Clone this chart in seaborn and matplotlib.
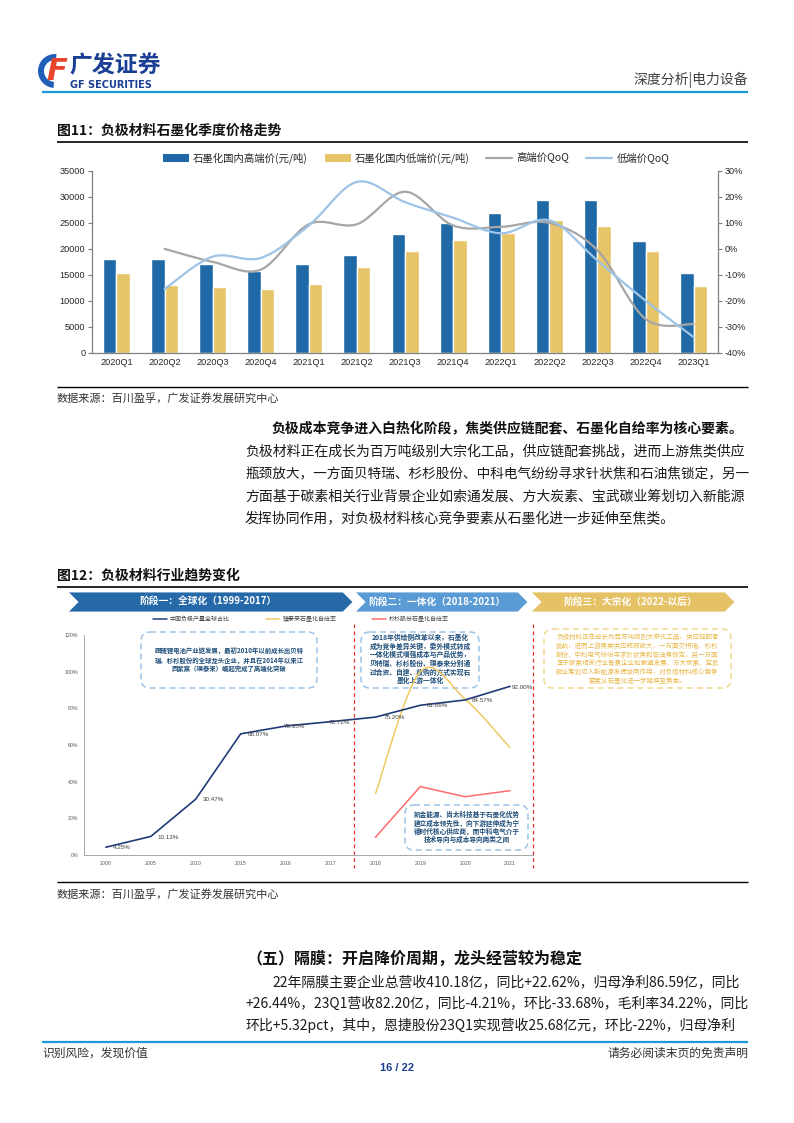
import numpy as np
import pandas as pd
import matplotlib
matplotlib.use("Agg")
import matplotlib.pyplot as plt
import seaborn as sns
from matplotlib.path import Path
from matplotlib.patches import PathPatch, Polygon, FancyBboxPatch, Wedge, Patch
from matplotlib.lines import Line2D
from matplotlib.ticker import FixedLocator, FuncFormatter

# ---------------- data ----------------
quarters = ['2020Q1', '2020Q2', '2020Q3', '2020Q4', '2021Q1', '2021Q2', '2021Q3',
            '2021Q4', '2022Q1', '2022Q2', '2022Q3', '2022Q4', '2023Q1']
high_price = [18000, 18000, 17100, 15800, 17100, 18800, 22900, 24900, 26900, 29500, 29400, 21500, 15300]
low_price = [15400, 13000, 12600, 12200, 13200, 16600, 19500, 21700, 23000, 25500, 24400, 19500, 12900]
high_qoq = [np.nan, 0.0, -5.0, -8.0, 9.5, 9.5, 22.0, 9.0, 8.5, 10.0, -0.5, -27.0, -29.0]
low_qoq = [np.nan, -15.5, -3.0, -3.5, 9.0, 25.8, 18.0, 12.0, 6.0, 11.0, -4.5, -20.0, -34.0]
series1 = ['石墨化国内高端价(元/吨)', '石墨化国内低端价(元/吨)', '高端价QoQ', '低端价QoQ']
price_ticks = [0, 5000, 10000, 15000, 20000, 25000, 30000, 35000]
pct_ticks = [-40, -30, -20, -10, 0, 10, 20, 30]

years = ['2000', '2005', '2010', '2015', '2016', '2017', '2018', '2019', '2020', '2021']
china_share = [4.25, 10.13, 30.47, 66.07, 70.35, 72.72, 75.20, 81.66, 84.57, 92.00]
ptl_rate = [np.nan, np.nan, np.nan, np.nan, np.nan, np.nan, 33.3, 100.0, 85.0, 58.5]
shanshan_rate = [np.nan, np.nan, np.nan, np.nan, np.nan, np.nan, 9.6, 37.3, 31.8, 35.1]
series2 = ['中国负极产量全球占比', '璞泰来石墨化自给率', '杉杉股份石墨化自给率']
share_ticks = [0, 20, 40, 60, 80, 100, 120]
stages = ['阶段一：全球化（1999-2017）', '阶段二：一体化（2018-2021）', '阶段三：大宗化（2022-以后）']

# ---------------- style ----------------
sns.set_theme(style="white")
CJK = ['Noto Sans CJK SC', 'DejaVu Sans']
NUM = ['Liberation Sans', 'DejaVu Sans']
plt.rcParams['font.family'] = CJK
plt.rcParams['axes.unicode_minus'] = False

BLUE = '#1f6aa6'
GOLD = '#e6c468'
GRAY = '#a6a6a6'
LBLUE = '#9dc3e6'
NAVY = '#203a78'
YEL2 = '#f0c862'
RED2 = '#ff6b6b'
DARKBLUE_TXT = '#1f4e79'
HDR_BLUE = '#1a9ad6'

W, H = 794, 1123
fig = plt.figure(figsize=(W / 100, H / 100), dpi=100)
renderer = fig.canvas.get_renderer()


def fx(x):
    return x / W


def fy(y):
    return 1 - y / H


ov = fig.add_axes([0, 0, 1, 1], zorder=-1)
ov.set_xlim(0, W)
ov.set_ylim(H, 0)
ov.axis('off')


def T(x, y, s, size, color='#1a1a1a', weight='normal', ha='left', va='center', family=CJK, **kw):
    return ov.text(x, y, s, fontsize=size, color=color, fontweight=weight, ha=ha, va=va,
                   family=family, **kw)


def fit(t, x0, xmax):
    bb = t.get_window_extent(renderer)
    if bb.x1 > xmax:
        t.set_fontsize(t.get_fontsize() * (xmax - x0) / (bb.x1 - x0))


def hline(y, x0, x1, color='#000000', lw=1.0):
    ov.plot([x0, x1], [y, y], color=color, lw=lw, solid_capstyle='butt')


# ---------------- header ----------------
ov.add_patch(Wedge((55, 71), 17, 95, 275, width=6, facecolor='#1f5fb8', edgecolor='none'))
T(57, 71, 'F', 22, color='#e8452c', weight='bold', ha='center', family=['DejaVu Sans'], style='italic')
T(69, 66, '广发证券', 16.5, color='#1a3f94', weight='bold')
T(70, 85, 'GF SECURITIES', 7.0, color='#1a3f94', weight='bold', family=['DejaVu Sans'])
T(748, 80, '深度分析|电力设备', 10, color='#404040', ha='right')
hline(92, 42, 748, color=HDR_BLUE, lw=1.6)

# ---------------- figure 11 ----------------
T(57, 131, '图11：负极材料石墨化季度价格走势', 10, weight='bold', color='#111111')
hline(142, 57, 748, lw=1.2)

ax1 = fig.add_axes([fx(92.4), fy(352.7), (717.7 - 92.4) / W, (352.7 - 171) / H])
ax1.set_facecolor('none')
df1 = pd.DataFrame({
    '季度': quarters * 2,
    '价格': high_price + low_price,
    '系列': [series1[0]] * len(quarters) + [series1[1]] * len(quarters),
})
sns.barplot(data=df1, x='季度', y='价格', hue='系列', order=quarters,
            hue_order=series1[:2], palette=[BLUE, GOLD], width=0.56,
            saturation=1, legend=False, ax=ax1)
ax1.set_xlim(-0.5, len(quarters) - 0.5)
ax1.set_ylim(0, 35000)
ax1.yaxis.set_major_locator(FixedLocator(price_ticks))
ax1.set_xlabel('')
ax1.set_ylabel('')
ax1.set_xticks(range(len(quarters)))
ax1.set_xticklabels(quarters, family=NUM, fontsize=6.6, color='#262626')
ax1.set_xticks(np.arange(-0.5, len(quarters)), minor=True)
ax1.tick_params(axis='x', which='major', length=0, pad=4)
ax1.tick_params(axis='x', which='minor', length=3, direction='out', color='#7f7f7f', width=0.8)
ax1.tick_params(axis='y', length=3, direction='out', color='#7f7f7f', width=0.8,
                labelsize=6.6, labelcolor='#262626', pad=2)
for lab in ax1.get_yticklabels():
    lab.set_family(NUM)
for s in ['top', 'right']:
    ax1.spines[s].set_visible(False)
for s in ['left', 'bottom']:
    ax1.spines[s].set_color('#7f7f7f')
    ax1.spines[s].set_linewidth(0.9)

ax2 = ax1.twinx()
ax2.set_facecolor('none')
ax2.set_ylim(-40, 30)
ax2.yaxis.set_major_locator(FixedLocator(pct_ticks))
ax2.yaxis.set_major_formatter(FuncFormatter(lambda v, p: f'{v:.0f}%'))
ax2.tick_params(axis='y', length=3, direction='out', color='#7f7f7f', width=0.8,
                labelsize=6.6, labelcolor='#262626', pad=2)
for lab in ax2.get_yticklabels():
    lab.set_family(NUM)
for s in ['top', 'left', 'bottom']:
    ax2.spines[s].set_visible(False)
ax2.spines['right'].set_color('#7f7f7f')
ax2.spines['right'].set_linewidth(0.9)


def smooth_path(xs, ys):
    pts = list(zip(xs, ys))
    n = len(pts)
    verts = [pts[0]]
    codes = [Path.MOVETO]
    for i in range(n - 1):
        p0 = pts[i - 1] if i > 0 else pts[i]
        p1 = pts[i]
        p2 = pts[i + 1]
        p3 = pts[i + 2] if i + 2 < n else pts[i + 1]
        c1 = (p1[0] + (p2[0] - p0[0]) / 6, p1[1] + (p2[1] - p0[1]) / 6)
        c2 = (p2[0] - (p3[0] - p1[0]) / 6, p2[1] - (p3[1] - p1[1]) / 6)
        verts += [c1, c2, p2]
        codes += [Path.CURVE4] * 3
    return Path(verts, codes)


def valid(vals):
    xs = [i for i, v in enumerate(vals) if not np.isnan(v)]
    ys = [vals[i] for i in xs]
    return xs, ys


for vals, col in [(high_qoq, GRAY), (low_qoq, LBLUE)]:
    xs, ys = valid(vals)
    ax2.add_patch(PathPatch(smooth_path(xs, ys), fill=False, edgecolor=col, lw=1.6,
                            capstyle='round', joinstyle='round'))

h1 = [Patch(facecolor=BLUE, edgecolor='none'), Patch(facecolor=GOLD, edgecolor='none'),
      Line2D([], [], color=GRAY, lw=1.6), Line2D([], [], color=LBLUE, lw=1.6)]
leg1 = fig.legend(h1, series1, loc='center', bbox_to_anchor=(fx(416), fy(158)), ncol=4,
                  frameon=False, fontsize=7.5, handlelength=2.5, handleheight=0.8,
                  columnspacing=1.6, handletextpad=0.4, borderaxespad=0)
for t in leg1.get_texts():
    t.set_color('#262626')

hline(387, 57, 748, lw=1.0)
T(57, 398, '数据来源：百川盈孚，广发证券发展研究中心', 8, color='#333333')

# ---------------- paragraph ----------------
t = T(272, 429, '负极成本竞争进入白热化阶段，焦类供应链配套、石墨化自给率为核心要素。', 10,
      weight='bold', color='#111111')
fit(t, 272, 748)
para = ['负极材料正在成长为百万吨级别大宗化工品，供应链配套挑战，进而上游焦类供应',
        '瓶颈放大，一方面贝特瑞、杉杉股份、中科电气纷纷寻求针状焦和石油焦锁定，另一',
        '方面基于碳素相关行业背景企业如索通发展、方大炭素、宝武碳业筹划切入新能源',
        '发挥协同作用，对负极材料核心竞争要素从石墨化进一步延伸至焦类。']
for i, line in enumerate(para):
    t = T(245, 452 + i * 22.5, line, 10, color='#1a1a1a')
    fit(t, 245, 748)

# ---------------- figure 12 ----------------
T(57, 576, '图12：负极材料行业趋势变化', 10, weight='bold', color='#111111')
hline(587, 57, 748, lw=1.2)


def chevron(x0, x1, col, y0=592, y1=612, d=10):
    ym = (y0 + y1) / 2
    pts = [(x0, y0), (x1 - d, y0), (x1, ym), (x1 - d, y1), (x0, y1), (x0 + d, ym)]
    ov.add_patch(Polygon(pts, closed=True, facecolor=col, edgecolor='white', lw=0.6))


chevron(68, 353, '#2569a8')
chevron(355, 528, '#5b9bd5')
chevron(531, 735, '#e6c266')
for xc, s in zip([208, 437, 630], stages):
    T(xc, 602, s, 7, color='white', weight='bold', ha='center')

ax3 = fig.add_axes([fx(83.5), fy(855), 449 / W, 220 / H])
ax3.set_facecolor('none')
idx = np.arange(len(years))
sns.lineplot(x=idx, y=china_share, color=NAVY, lw=1.2, ax=ax3)
xs, ys = valid(ptl_rate)
ax3.add_patch(PathPatch(smooth_path(xs, ys), fill=False, edgecolor=YEL2, lw=1.1))
xs, ys = valid(shanshan_rate)
sns.lineplot(x=xs, y=ys, color=RED2, lw=1.1, ax=ax3)
ax3.set_xlim(-0.5, len(years) - 0.5)
ax3.set_ylim(0, 120)
ax3.yaxis.set_major_locator(FixedLocator(share_ticks))
ax3.yaxis.set_major_formatter(FuncFormatter(lambda v, p: f'{v:.0f}%'))
ax3.set_xticks(idx)
ax3.set_xticklabels(years)
ax3.set_xticks(np.arange(-0.5, len(years)), minor=True)
ax3.tick_params(axis='x', which='major', length=0, pad=4, labelsize=3.8, labelcolor='#595959')
ax3.tick_params(axis='x', which='minor', length=2.5, direction='out', color='#a6a6a6', width=0.6)
ax3.tick_params(axis='y', length=2, direction='out', color='#a6a6a6', width=0.6,
                labelsize=3.8, labelcolor='#595959', pad=2)
for lab in ax3.get_xticklabels() + ax3.get_yticklabels():
    lab.set_family(NUM)
for s in ['top', 'right']:
    ax3.spines[s].set_visible(False)
for s in ['left', 'bottom']:
    ax3.spines[s].set_color('#a6a6a6')
    ax3.spines[s].set_linewidth(0.7)

label_dx = [5, 5, 5, 5, -1, -1, 6, 5, 5, 1]
for i, v in enumerate(china_share):
    ax3.annotate(f'{v:.2f}%', (i, v), xytext=(label_dx[i], -0.5), textcoords='offset points',
                 ha='left', va='center', fontsize=4.5, color='#404040', family=NUM)

h2 = [Line2D([], [], color=NAVY, lw=1.1), Line2D([], [], color=YEL2, lw=1.1),
      Line2D([], [], color=RED2, lw=1.1)]
leg2 = ax3.legend(h2, series2, loc='center', bbox_to_anchor=(fx(301), fy(619)),
                  bbox_transform=fig.transFigure, ncol=3, frameon=False, fontsize=4.3,
                  handlelength=2.3, columnspacing=6.0, handletextpad=0.5, borderaxespad=0)
for t in leg2.get_texts():
    t.set_color('#404040')

# red dashed separators
for xv in [353.5, 532.5]:
    ov.plot([xv, xv], [624, 868], color='#e8302a', lw=0.9, ls=(0, (3, 2.5)))


def dbox(x0, y0, x1, y1, ec):
    ov.add_patch(FancyBboxPatch((x0, y0), x1 - x0, y1 - y0,
                                boxstyle='round,pad=0,rounding_size=9', fill=False,
                                edgecolor=ec, lw=1.1, ls=(0, (4, 2.5))))


dbox(141, 632, 317, 688, LBLUE)
box1 = ['跟随锂电池产业链发展，最初2010年以前成长出贝特',
        '瑞、杉杉股份的全球龙头企业，并且在2014年以来江',
        '西紫宸（璞泰来）崛起完成了高端化突破']
for i, s in enumerate(box1):
    T(229, 651.7 + i * 8.3, s, 4.6, color=DARKBLUE_TXT, weight='bold', ha='center')

dbox(361, 632, 479, 688, LBLUE)
box2 = ['2018年供给侧改革以来，石墨化', '成为竞争差异关键，委外模式转成',
        '一体化模式增强成本与产品优势，', '贝特瑞、杉杉股份、璞泰来分别通',
        '过合资、自建、收购的方式实现石', '墨化上游一体化']
for i, s in enumerate(box2):
    T(420, 637.3 + i * 8.7, s, 4.9, color=DARKBLUE_TXT, weight='bold', ha='center')

dbox(544, 629, 731, 688, '#f0d890')
box3 = ['负极材料正在成长为百万吨级别大宗化工品，供应链配套',
        '挑战，进而上游焦类供应瓶颈放大，一方面贝特瑞、杉杉',
        '股份、中科电气纷纷寻求针状焦和石油焦锁定，另一方面',
        '基于碳素相关行业背景企业如索通发展、方大炭素、宝武',
        '碳业筹划切入新能源发挥协同作用，对负极材料核心竞争',
        '要素从石墨化进一步延伸至焦类。']
for i, s in enumerate(box3):
    T(637.5, 637.3 + i * 8.7, s, 4.7, color='#e8b84a', ha='center')

dbox(405, 805, 528, 850, LBLUE)
box4 = ['凯金能源、尚太科技基于石墨化优势', '建立成本领先性，向下游延伸成为宁',
        '德时代核心供应商，而中科电气介于', '技术导向与成本导向两类之间']
for i, s in enumerate(box4):
    T(466.5, 814.3 + i * 8.5, s, 4.8, color=DARKBLUE_TXT, weight='bold', ha='center')

hline(882, 57, 748, lw=1.0)
T(57, 894, '数据来源：百川盈孚，广发证券发展研究中心', 8, color='#333333')

# ---------------- section text ----------------
T(246, 959, '（五）隔膜：开启降价周期，龙头经营较为稳定', 11.5, weight='bold', color='#111111')
body = [(272, '22年隔膜主要企业总营收410.18亿，同比+22.62%，归母净利86.59亿，同比'),
        (245, '+26.44%，23Q1营收82.20亿，同比-4.21%，环比-33.68%，毛利率34.22%，同比'),
        (245, '环比+5.32pct，其中，恩捷股份23Q1实现营收25.68亿元，环比-22%，归母净利')]
for i, (x0, s) in enumerate(body):
    t = T(x0, 982 + i * 21.5, s, 10, color='#1a1a1a')
    fit(t, x0, 748)

# ---------------- footer ----------------
hline(1042, 42, 748, color=HDR_BLUE, lw=1.6)
T(42, 1053, '识别风险，发现价值', 8.5, color='#333333')
T(748, 1053, '请务必阅读末页的免责声明', 8.5, color='#333333', ha='right')
T(397, 1068, '16 / 22', 8, color='#1a3f94', weight='bold', ha='center', family=NUM)

fig.savefig('out.png', dpi=100)
